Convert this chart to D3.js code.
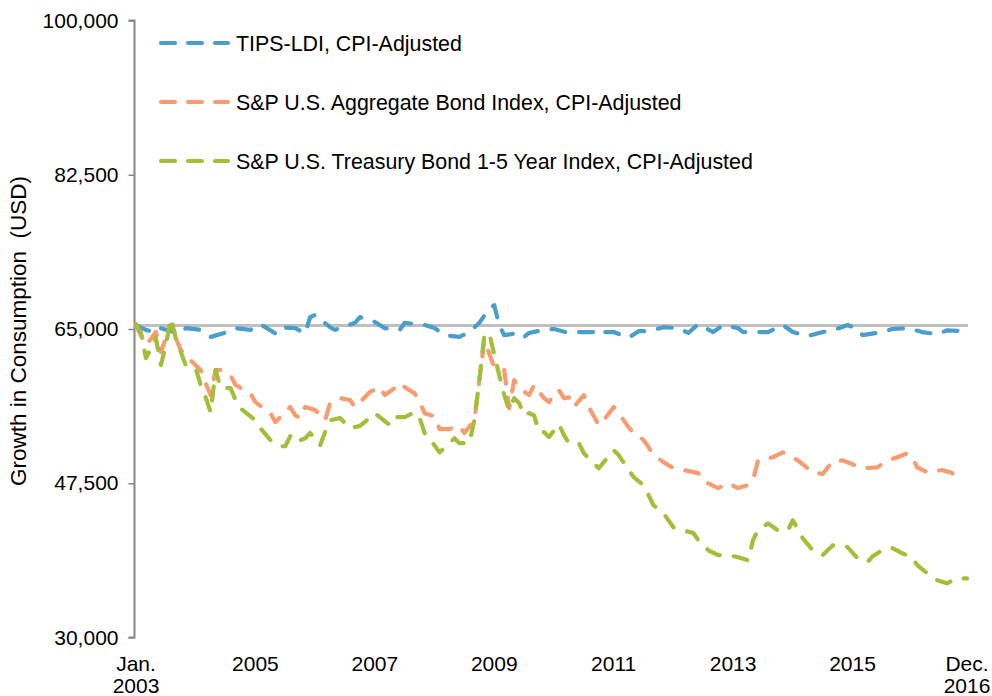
<!DOCTYPE html>
<html>
<head>
<meta charset="utf-8">
<script src="https://cdn.jsdelivr.net/npm/d3@7"></script>
<style>
  body { margin: 0; background: #fff; }
  svg text { font-family: "Liberation Sans", Arial, sans-serif; fill: #000; }
</style>
</head>
<body>
<svg width="992" height="696"></svg>
<script>
// months counted from Jan. 2003 (0) to Dec. 2016 (167)
const tipsLdi = [
  [0,65400],[2,64900],[4,64600],[5,65100],[9,64400],[10,65100],[13,64900],[15,64100],
  [18,64600],[20,65100],[23,64900],[25,65550],[28,64500],[29,65200],[32,65100],[34,64500],
  [35,66350],[36,66600],[39,65200],[40,64900],[44,65700],[45,66350],[48,65800],[50,65100],
  [53,64900],[54,65700],[58,65450],[60,65100],[62,64300],[65,64100],[67,64650],[69,65700],
  [71,67350],[72,67700],[73,65400],[74,64300],[77,64550],[78,64100],[79,64550],[82,64900],
  [84,65000],[87,64550],[89,64650],[92,64650],[93,65000],[94,64650],[96,64650],[99,64000],
  [101,64750],[103,64750],[106,65200],[109,65100],[111,64550],[113,65550],[116,64650],[118,65450],
  [121,65100],[122,64650],[125,64650],[127,64650],[130,65450],[132,64650],[135,64200],[138,64650],
  [140,64850],[143,65450],[145,65000],[146,64300],[150,64650],[152,65000],[155,65100],[158,64650],
  [161,64400],[163,64850],[166,64750],[167,64750]
];
const aggregateBond = [
  [0,65400],[2,63150],[4,64650],[5,62400],[6,63950],[8,63950],[9,62600],[11,61450],
  [13,60350],[14,58850],[15,57500],[16,60350],[17,60350],[19,59750],[20,58650],[23,57700],
  [24,56700],[27,55450],[28,54450],[30,55550],[31,56150],[32,55200],[33,54900],[34,56150],
  [36,55800],[38,54650],[39,56600],[41,57150],[43,56950],[44,56150],[46,57250],[47,57850],
  [49,58400],[50,57500],[52,58300],[53,58850],[54,58400],[56,57700],[57,56700],[58,55450],
  [60,55100],[61,53650],[63,53650],[64,53850],[65,54000],[66,53200],[68,54650],[69,59200],
  [70,63750],[72,60650],[73,60350],[74,60350],[75,56000],[76,59200],[77,58300],[79,57500],
  [80,58650],[82,57150],[83,56700],[84,57700],[85,58050],[86,57150],[87,57250],[88,56150],
  [90,57500],[91,56150],[93,54100],[94,54650],[96,56150],[97,55450],[99,53850],[100,53200],
  [102,52400],[103,51600],[104,50700],[106,49900],[108,49200],[110,49000],[113,48650],[114,47750],
  [117,46950],[119,47500],[121,46950],[123,47300],[124,47850],[125,50100],[128,50450],[130,51000],
  [131,50700],[133,50100],[136,48750],[138,48550],[140,50000],[142,50100],[144,49650],[146,49200],
  [149,49300],[151,50100],[153,50450],[155,50900],[156,50350],[157,49300],[159,48750],[162,49000],
  [164,48650],[165,48050]
];
const treasury15 = [
  [0,65550],[1,64550],[2,61700],[3,62800],[4,63950],[5,60900],[6,63150],[7,66250],
  [8,63950],[9,62400],[10,60900],[12,60550],[13,58650],[14,57250],[15,55550],[16,60350],
  [17,58300],[19,58300],[20,56950],[21,56000],[24,54650],[25,53750],[27,52400],[29,51700],
  [30,51700],[31,52850],[32,52150],[34,52600],[35,53200],[37,51800],[38,53300],[39,54650],
  [41,54900],[43,53750],[45,54000],[46,54450],[48,55450],[49,55000],[51,54100],[52,55000],
  [54,55000],[56,55550],[57,54900],[58,53200],[60,51800],[61,51000],[63,52050],[64,52600],
  [65,52050],[67,52050],[68,54650],[69,59200],[70,64300],[71,64550],[72,62050],[73,59750],
  [74,57500],[75,55800],[76,57150],[77,56600],[78,55200],[79,55450],[80,55200],[81,53300],
  [82,53300],[83,52750],[84,53500],[85,54200],[86,52950],[87,52050],[89,52050],[90,50900],
  [93,49200],[94,49900],[96,51250],[97,50700],[99,49000],[100,48200],[102,47300],[103,46150],
  [104,45000],[106,44100],[108,42500],[110,42150],[112,41850],[113,41050],[115,39900],[117,39350],
  [119,39350],[121,39100],[123,38750],[124,41050],[125,42150],[127,42950],[129,42150],[131,42150],
  [132,43300],[134,41250],[136,39900],[138,39350],[140,40450],[142,40450],[143,40250],[145,39000],
  [147,38550],[148,39200],[150,39900],[152,40150],[154,39550],[156,39100],[157,38200],[159,37300],
  [161,36500],[163,36150],[165,36700],[167,36700]
];
const startValue = 65400;

const seriesNames = [
  "TIPS-LDI, CPI-Adjusted",
  "S&P U.S. Aggregate Bond Index, CPI-Adjusted",
  "S&P U.S. Treasury Bond 1-5 Year Index, CPI-Adjusted"
];
const seriesColors = ["#4A9ECB", "#F79B70", "#A3BF3A"];
const seriesData = [tipsLdi, aggregateBond, treasury15];

const yTicks = [30000, 47500, 65000, 82500, 100000];
const xTickMonths = [0, 24, 48, 72, 96, 120, 144, 167];
const xTickLabels = [["Jan.", "2003"], ["2005"], ["2007"], ["2009"], ["2011"], ["2013"], ["2015"], ["Dec.", "2016"]];

const svg = d3.select("svg");
const fs = 21;

const x = d3.scaleLinear().domain([0, 167]).range([136, 967]);
const y = d3.scaleLinear().domain([30000, 100000]).range([637.5, 20.5]);

// y axis
const yAxis = svg.append("g")
  .attr("transform", "translate(134.5,0)")
  .call(d3.axisLeft(y).tickValues(yTicks).tickSize(6).tickPadding(10).tickFormat(d3.format(",")));
yAxis.select(".domain").attr("stroke", "#868686").attr("stroke-width", 2).attr("d", "M-6,20.5H0V637.5H-6");
yAxis.selectAll(".tick line").attr("stroke", "#868686").attr("stroke-width", 1.5);
yAxis.selectAll(".tick text").attr("font-size", fs).attr("font-family", "Liberation Sans, Arial, sans-serif").attr("fill", "#000");

// x labels (no axis line)
const xl = svg.append("g");
xTickMonths.forEach((m, i) => {
  const t = xl.append("text")
    .attr("x", x(m))
    .attr("y", 671)
    .attr("text-anchor", "middle")
    .attr("font-size", fs);
  xTickLabels[i].forEach((s, j) => {
    t.append("tspan").attr("x", x(m)).attr("dy", j === 0 ? 0 : 22).text(s);
  });
});

// y title
svg.append("text")
  .attr("transform", "translate(26,331) rotate(-90)")
  .attr("text-anchor", "middle")
  .attr("font-size", 22.5)
  .style("white-space", "pre")
  .text("Growth in Consumption  (USD)");

// starting level reference line
svg.append("line")
  .attr("x1", 135).attr("x2", 968)
  .attr("y1", y(startValue)).attr("y2", y(startValue))
  .attr("stroke", "#BFBFBF").attr("stroke-width", 3);

const line = d3.line()
  .x(d => x(d[0]))
  .y(d => y(d[1]));

svg.append("g").selectAll("path")
  .data(seriesData)
  .enter()
  .append("path")
  .attr("d", line)
  .attr("fill", "none")
  .attr("stroke", (d, i) => seriesColors[i])
  .attr("stroke-width", 4.2)
  .attr("stroke-linecap", "round")
  .attr("stroke-linejoin", "round")
  .attr("stroke-dasharray", "14,14");

// legend
const legendY = [43, 102, 161];
const lg = svg.append("g");
seriesNames.forEach((name, i) => {
  lg.append("line")
    .attr("x1", 161).attr("x2", 228)
    .attr("y1", legendY[i]).attr("y2", legendY[i])
    .attr("stroke", seriesColors[i])
    .attr("stroke-width", 4.2)
    .attr("stroke-linecap", "round")
    .attr("stroke-dasharray", "14,13");
  lg.append("text")
    .attr("x", 236)
    .attr("y", legendY[i] + 7.5)
    .attr("font-size", 21.4)
    .text(name);
});
</script>
</body>
</html>
